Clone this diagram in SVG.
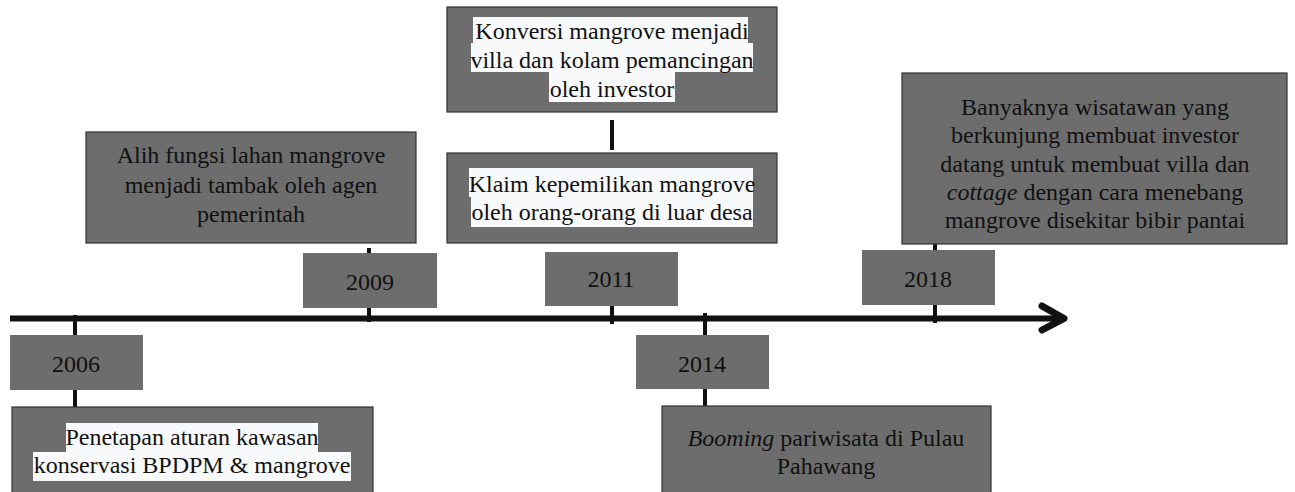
<svg xmlns="http://www.w3.org/2000/svg" width="1295" height="492" viewBox="0 0 1295 492">
<style>
.box{fill:#6d6d6d;stroke:#333;stroke-width:1.2}
.hl{fill:#f8f9fa}
.t{font-family:"Liberation Serif","Times New Roman",serif;font-size:24px;fill:#111;text-anchor:middle}
.tick{stroke:#111;stroke-width:4;fill:none}
.axis{stroke:#111;stroke-width:6;fill:none;stroke-linecap:butt}
.head{stroke:#111;stroke-width:7;fill:none;stroke-linecap:round;stroke-linejoin:round}
</style>
<rect width="1295" height="492" fill="#fff"/>
<g id="connectors">
<line class="axis" x1="10" y1="318.5" x2="1060" y2="318.5"/>
<polyline class="head" points="1042,306 1064,318.5 1042,330"/>
<line class="tick" x1="75" y1="315" x2="75" y2="407"/>
<line class="tick" x1="369" y1="248" x2="369" y2="322"/>
<line class="tick" x1="612" y1="120" x2="612" y2="150"/>
<line class="tick" x1="612" y1="300" x2="612" y2="324"/>
<line class="tick" x1="705" y1="313" x2="705" y2="406"/>
<line class="tick" x1="935" y1="243" x2="935" y2="323"/>
</g>
<g id="y2006">
<rect class="box" x="10" y="335" width="133" height="55" style="stroke:none"/>
<text class="t" x="76" y="372">2006</text>
</g>
<g id="e2006">
<rect class="box" x="12" y="407" width="361" height="100"/>
<rect class="hl" x="66" y="423" width="252" height="29"/>
<rect class="hl" x="33" y="452" width="318" height="29"/>
<text class="t" x="192" y="445">Penetapan aturan kawasan</text>
<text class="t" x="192" y="473">konservasi BPDPM &amp; mangrove</text>
</g>
<g id="y2009">
<rect class="box" x="303" y="253" width="134" height="55" style="stroke:none"/>
<text class="t" x="370" y="290">2009</text>
</g>
<g id="e2009">
<rect class="box" x="86" y="132" width="330" height="111"/>
<text class="t" x="251" y="163">Alih fungsi lahan mangrove</text>
<text class="t" x="251" y="193">menjadi tambak oleh agen</text>
<text class="t" x="251" y="222">pemerintah</text>
</g>
<g id="e2011a">
<rect class="box" x="447" y="7" width="330" height="105"/>
<rect class="hl" x="473" y="17" width="275" height="26"/>
<rect class="hl" x="471" y="43" width="282" height="29"/>
<rect class="hl" x="549" y="72" width="126" height="30"/>
<text class="t" x="612" y="39">Konversi mangrove menjadi</text>
<text class="t" x="612" y="68">villa dan kolam pemancingan</text>
<text class="t" x="612" y="97">oleh investor</text>
</g>
<g id="e2011b">
<rect class="box" x="447" y="153" width="330" height="90"/>
<rect class="hl" x="469" y="168" width="284" height="29"/>
<rect class="hl" x="471" y="197" width="282" height="30"/>
<text class="t" x="612" y="192">Klaim kepemilikan mangrove</text>
<text class="t" x="612" y="220">oleh orang-orang di luar desa</text>
</g>
<g id="y2011">
<rect class="box" x="545" y="252" width="133" height="54" style="stroke:none"/>
<text class="t" x="611" y="287">2011</text>
</g>
<g id="y2014">
<rect class="box" x="636" y="335" width="133" height="54" style="stroke:none"/>
<text class="t" x="702" y="372">2014</text>
</g>
<g id="e2014">
<rect class="box" x="662" y="406" width="329" height="100"/>
<text class="t" x="826" y="446"><tspan font-style="italic">Booming</tspan> pariwisata di Pulau</text>
<text class="t" x="826" y="474">Pahawang</text>
</g>
<g id="y2018">
<rect class="box" x="862" y="250" width="133" height="55" style="stroke:none"/>
<text class="t" x="928" y="287">2018</text>
</g>
<g id="e2018">
<rect class="box" x="902" y="73" width="385" height="171"/>
<text class="t" x="1095" y="115">Banyaknya wisatawan yang</text>
<text class="t" x="1095" y="143">berkunjung membuat investor</text>
<text class="t" x="1095" y="172">datang untuk membuat villa dan</text>
<text class="t" x="1095" y="200"><tspan font-style="italic">cottage</tspan> dengan cara menebang</text>
<text class="t" x="1095" y="228">mangrove disekitar bibir pantai</text>
</g>
</svg>
